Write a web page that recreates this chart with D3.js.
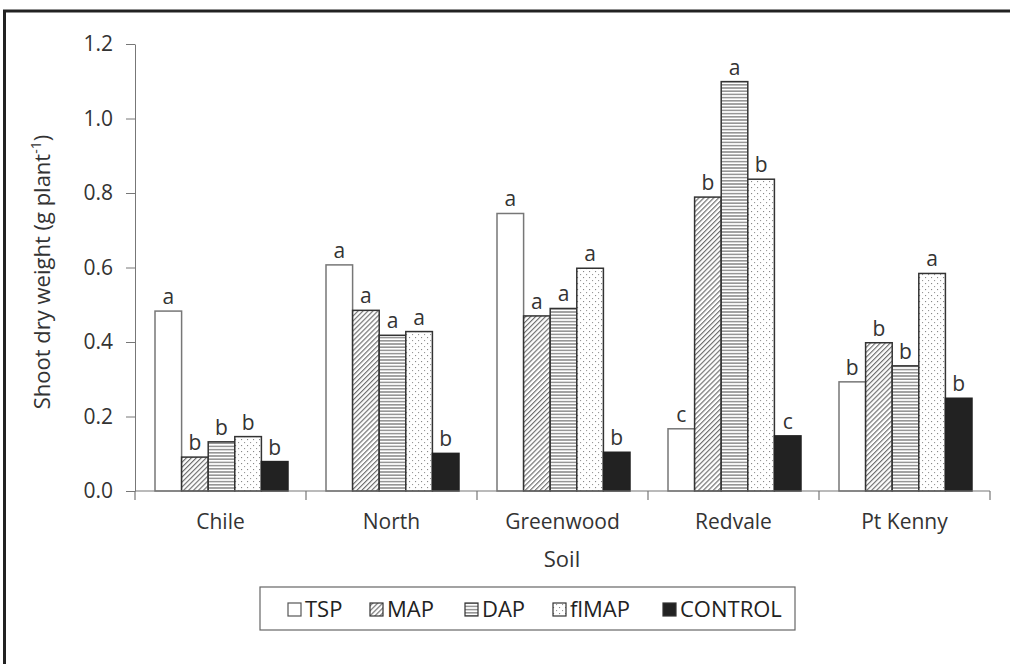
<!DOCTYPE html>
<html><head><meta charset="utf-8">
<script src="https://cdn.jsdelivr.net/npm/d3@7"></script>
<style>body{margin:0;background:#fff;} svg{display:block;font-family:"Open Sans",sans-serif;}</style>
</head><body>
<script>
const soils = ["Chile","North","Greenwood","Redvale","Pt Kenny"];
const treatments = ["TSP","MAP","DAP","flMAP","CONTROL"];
const TSP     = [0.483,0.607,0.745,0.167,0.293];
const MAP     = [0.091,0.485,0.470,0.789,0.398];
const DAP     = [0.132,0.418,0.490,1.099,0.336];
const flMAP   = [0.146,0.428,0.598,0.837,0.584];
const CONTROL = [0.079,0.101,0.104,0.148,0.249];
const letters = {
  TSP:     ["a","a","a","c","b"],
  MAP:     ["b","a","a","b","b"],
  DAP:     ["b","a","a","a","b"],
  flMAP:   ["b","a","a","b","a"],
  CONTROL: ["b","b","b","c","b"]
};
const yTicks = [0,0.2,0.4,0.6,0.8,1.0,1.2];
const series = {TSP, MAP, DAP, flMAP, CONTROL};

const W=1010,H=664;
const svg=d3.select("body").append("svg").attr("width",W).attr("height",H);
const defs=svg.append("defs");
const pMAP=defs.append("pattern").attr("id","pMAP").attr("patternUnits","userSpaceOnUse").attr("width",3.5).attr("height",3.5).attr("patternTransform","rotate(45)");
pMAP.append("rect").attr("width",3.5).attr("height",3.5).attr("fill","#fff");
pMAP.append("line").attr("x1",0.6).attr("y1",0).attr("x2",0.6).attr("y2",3.5).attr("stroke","#666").attr("stroke-width",1.1);
const pDAP=defs.append("pattern").attr("id","pDAP").attr("patternUnits","userSpaceOnUse").attr("width",4).attr("height",3.2);
pDAP.append("rect").attr("width",4).attr("height",3.2).attr("fill","#fff");
pDAP.append("line").attr("x1",0).attr("y1",1.6).attr("x2",4).attr("y2",1.6).attr("stroke","#666").attr("stroke-width",1.1);
const pF=defs.append("pattern").attr("id","pF").attr("patternUnits","userSpaceOnUse").attr("width",6).attr("height",6);
pF.append("rect").attr("width",6).attr("height",6).attr("fill","#fff");
pF.append("rect").attr("x",1).attr("y",1).attr("width",1.1).attr("height",1.1).attr("fill","#888");
pF.append("rect").attr("x",4).attr("y",4).attr("width",1.1).attr("height",1.1).attr("fill","#999");
const fills={TSP:"#fff",MAP:"url(#pMAP)",DAP:"url(#pDAP)",flMAP:"url(#pF)",CONTROL:"#222"};
const strokes={TSP:"#777",MAP:"#333",DAP:"#333",flMAP:"#333",CONTROL:"#222"};

// frame
svg.append("line").attr("x1",3).attr("x2",W).attr("y1",11).attr("y2",11).attr("stroke","#222").attr("stroke-width",3);
svg.append("line").attr("x1",4.5).attr("x2",4.5).attr("y1",10).attr("y2",H).attr("stroke","#222").attr("stroke-width",3);

const x0=d3.scaleBand().domain(soils).range([135,990]).paddingInner(0).paddingOuter(0);
const x1=d3.scaleBand().domain(treatments).range([20,x0.bandwidth()-18]);
const y=d3.scaleLinear().domain([0,1.2]).range([491,44]);

// y axis
const ya=svg.append("g").attr("transform","translate(135,0)").call(d3.axisLeft(y).tickValues(yTicks).tickFormat(d3.format(".1f")).tickSize(9).tickSizeOuter(0));
ya.select(".domain").attr("stroke","#777");
ya.selectAll(".tick line").attr("stroke","#777");
ya.selectAll(".tick text").attr("font-size",21).attr("fill","#333").attr("font-family","Open Sans").attr("dx",-10);

// bars
const g=svg.append("g");
soils.forEach((s,i)=>{
  treatments.forEach(t=>{
    const v=series[t][i];
    const bx=x0(s)+x1(t);
    g.append("rect").attr("x",bx).attr("y",y(v)).attr("width",x1.bandwidth()).attr("height",y(0)-y(v))
      .attr("fill",fills[t]).attr("stroke",strokes[t]).attr("stroke-width",1.5);
    g.append("text").attr("x",bx+x1.bandwidth()/2).attr("y",y(v)-7).attr("text-anchor","middle")
      .attr("font-size",21).attr("fill","#333").text(letters[t][i]);
  });
});

// x axis
const xa=svg.append("g").attr("transform","translate(0,491)");
xa.append("line").attr("x1",135).attr("x2",990).attr("stroke","#777").attr("stroke-width",1.2);
soils.concat(["end"]).forEach((s,i)=>{
  const px=135+i*x0.bandwidth();
  xa.append("line").attr("x1",px).attr("x2",px).attr("y1",0).attr("y2",9).attr("stroke","#777").attr("stroke-width",1.2);
});
soils.forEach(s=>{
  xa.append("text").attr("x",x0(s)+x0.bandwidth()/2).attr("y",38).attr("text-anchor","middle").attr("font-size",21).attr("fill","#333").text(s);
});
svg.append("text").attr("x",562).attr("y",567).attr("text-anchor","middle").attr("font-size",22).attr("fill","#333").text("Soil");

// y title
const yt=svg.append("text").attr("transform","translate(50,272) rotate(-90)").attr("text-anchor","middle").attr("font-size",22).attr("fill","#333");
yt.append("tspan").text("Shoot dry weight (g plant");
yt.append("tspan").attr("font-size",14).attr("dy",-9).text("-1");
yt.append("tspan").attr("dy",9).text(")");

// legend
svg.append("rect").attr("x",260).attr("y",587).attr("width",535).attr("height",43).attr("fill","#fff").attr("stroke","#666").attr("stroke-width",1.2);
const legX=[288,370,465,553,663];
treatments.forEach((t,i)=>{
  svg.append("rect").attr("x",legX[i]).attr("y",603).attr("width",13).attr("height",13).attr("fill",fills[t]).attr("stroke",t==="TSP"?"#555":"#333").attr("stroke-width",1.2);
  svg.append("text").attr("x",legX[i]+17).attr("y",617).attr("font-size",22).attr("fill","#222").text(t);
});
</script>
</body></html>
